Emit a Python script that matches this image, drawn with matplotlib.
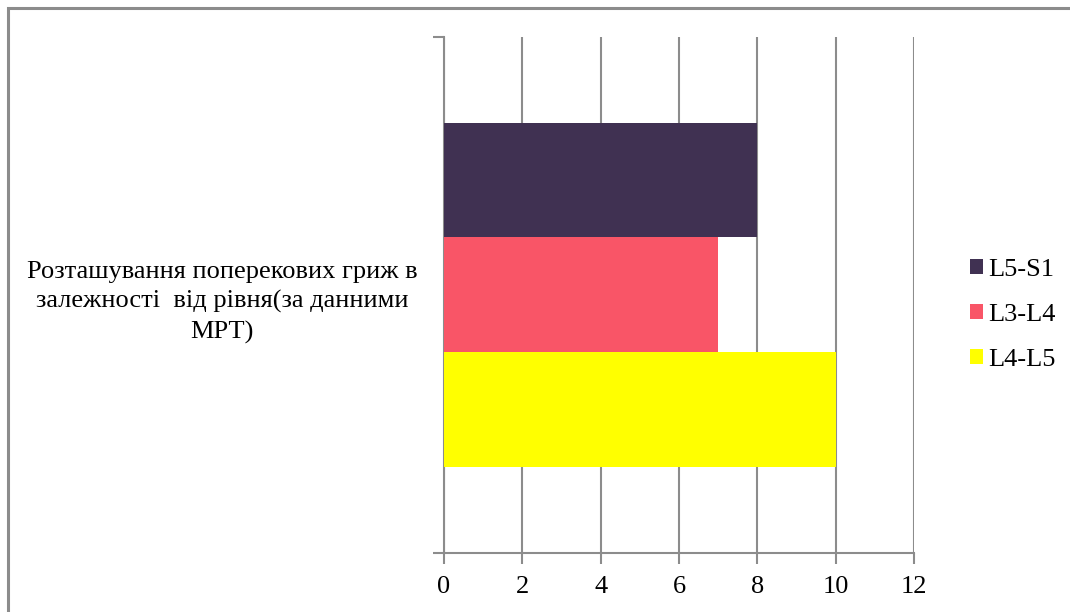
import matplotlib
matplotlib.use("Agg")
import matplotlib.pyplot as plt
from matplotlib.patches import Patch, Rectangle

# Data -----------------------------------------------------------------
category = "Розташування поперекових гриж в\nзалежності  від рівня(за данними\nМРТ)"
series = ["L5-S1", "L3-L4", "L4-L5"]
values = [8, 7, 10]
colors = ["#403152", "#F95567", "#FFFF00"]
xticks = [0, 2, 4, 6, 8, 10, 12]

plt.rcParams["font.family"] = ["Liberation Serif", "DejaVu Serif"]
grey = "#8C8C8C"
fs = 19

fig = plt.figure(figsize=(10.7, 6.12), dpi=100)
fig.patches.append(Rectangle((7.5 / 1070, -0.1), 1.2, 1 - 7.5 / 612 + 0.1,
                             transform=fig.transFigure, fill=False,
                             edgecolor=grey, linewidth=2.2))
ax = fig.add_axes([444 / 1070, 1 - 552.5 / 612, 470 / 1070, 515.5 / 612])

# three bars per category, top to bottom
bar_h = 0.2227
offsets = [bar_h, 0, -bar_h]
for name, val, col, off in zip(series, values, colors, offsets):
    ax.barh(off, val, height=bar_h, color=col, label=name, zorder=3)

ax.set_xlim(0, 12)
ax.set_ylim(-0.5, 0.5)
ax.set_xticks(xticks)
ax.set_xticklabels([str(t) for t in xticks], fontsize=fs)
ax.set_yticks([-0.5, 0.5])
ax.set_yticklabels(["", ""])
ax.grid(axis="x", color=grey, linewidth=1.5, zorder=0)
for side in ["top", "right"]:
    ax.spines[side].set_visible(False)
for side in ["left", "bottom"]:
    ax.spines[side].set_color(grey)
    ax.spines[side].set_linewidth(1.5)
ax.tick_params(axis="both", length=8, width=1.5, color=grey, pad=9)

ax.text(-0.472, 0.485, category, transform=ax.transAxes, ha="center",
        va="center", fontsize=fs, linespacing=1.4)

handles = [Patch(facecolor=c, edgecolor="none") for c in colors]
fig.legend(handles, series, loc="center left", bbox_to_anchor=(946 / 1070, 1 - 315 / 612),
           frameon=False, fontsize=fs, handlelength=0.5, handleheight=0.5,
           handletextpad=0.2, labelspacing=0.88)

fig.savefig("out.png", dpi=100)
